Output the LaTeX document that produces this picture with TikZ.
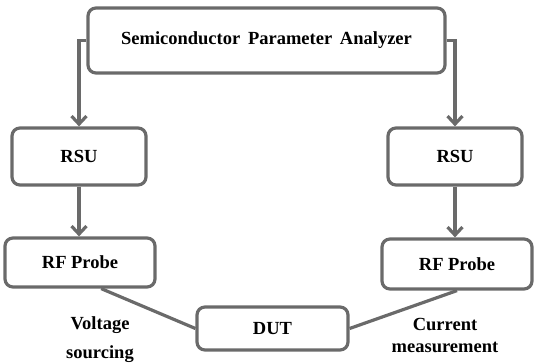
\documentclass[tikz,border=0pt]{standalone}
\usepackage{fontspec}
\setmainfont{Liberation Serif}
\usepackage{xcolor}
\usetikzlibrary{arrows.meta,positioning,calc}
\definecolor{edgegray}{HTML}{6A6A6A}
\begin{document}
\begin{tikzpicture}[x=1pt, y=-1pt, >={Straight Barb[length=8pt,width=15pt]},
  unit/.style={draw=edgegray, line width=3.2pt, rounded corners=8pt, fill=white, align=center,
    font=\fontsize{18.5}{20}\selectfont\bfseries, inner sep=0pt},
  link/.style={draw=edgegray, line width=3.2pt},
  note/.style={align=center, font=\fontsize{18.5}{29}\selectfont\bfseries}]
  \useasboundingbox (0,0) rectangle (534,363);
  \node[unit, minimum width=357pt, minimum height=65pt](spa) at (266.5,40.5)
      {Semiconductor\, Parameter\, Analyzer};
  \node[unit, minimum width=134pt, minimum height=57pt](rsuL) at (79,156.5){RSU};
  \node[unit, minimum width=134pt, minimum height=57pt](rsuR) at (455,156.5){RSU};
  \node[unit, minimum width=150pt, minimum height=49pt](rfL) at (80,262.5){RF Probe};
  \node[unit, minimum width=150pt, minimum height=50pt](rfR) at (457,264){RF Probe};
  \node[unit, minimum width=151pt, minimum height=43pt](dut) at (272.5,328.5){DUT};
  \draw[link,->](spa.west) -| (rsuL.north);
  \draw[link,->](spa.east) -| (rsuR.north);
  \draw[link,->](rsuL.south) -- (rsuL.south |- rfL.north);
  \draw[link,->](rsuR.south) -- (rsuR.south |- rfR.north);
  \draw[link](rfL.-51) -- (dut.west);
  \draw[link](dut.east) -- (rfR.south);
  \node[note](vs) at (100,340){Voltage\\sourcing};
  \node[note, font=\fontsize{18.5}{22}\selectfont\bfseries](cm) at (445,335){Current\\measurement};
\end{tikzpicture}
\end{document}
